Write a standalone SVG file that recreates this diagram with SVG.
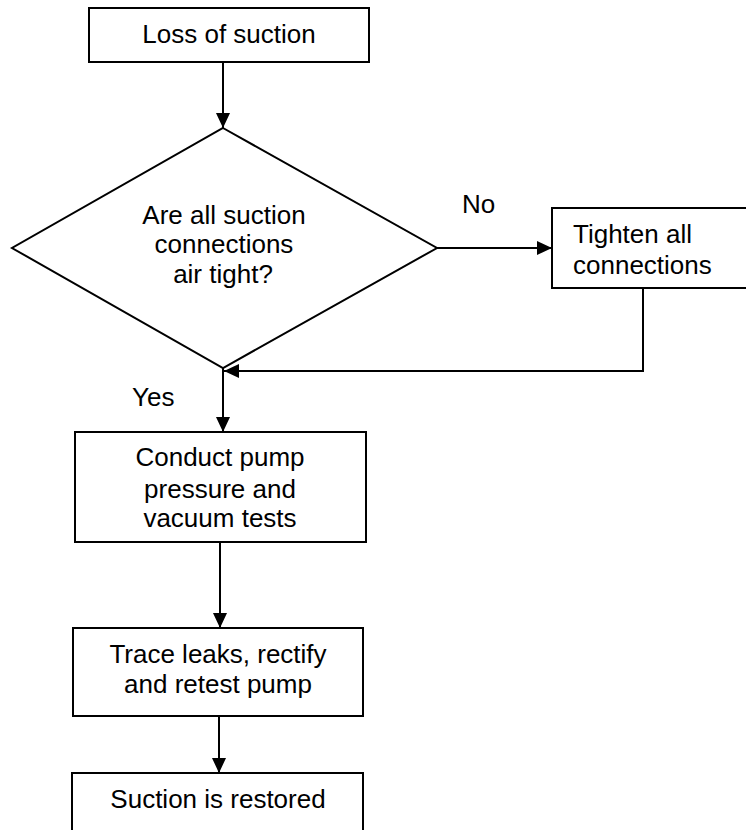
<svg xmlns="http://www.w3.org/2000/svg" width="746" height="830" viewBox="0 0 746 830">
<defs>
<style>
.shape{fill:#fff;stroke:#000;stroke-width:2}
.conn{fill:none;stroke:#000;stroke-width:2}
text{font-family:"Liberation Sans",Arial,sans-serif;font-size:26px;fill:#000}
.c{text-anchor:middle}
</style>
<marker id="arrow" markerUnits="userSpaceOnUse" markerWidth="16" markerHeight="16" viewBox="0 0 16 16" refX="15" refY="8" orient="auto">
<path d="M0,1 L15,8 L0,15 Z" fill="#000"/>
</marker>
</defs>
<rect x="0" y="0" width="746" height="830" fill="#fff"/>
<g id="connectors">
<line class="conn" x1="223" y1="62" x2="223" y2="128" marker-end="url(#arrow)"/>
<line class="conn" x1="437" y1="248" x2="552" y2="248" marker-end="url(#arrow)"/>
<polyline class="conn" points="643,288 643,371 224,371" marker-end="url(#arrow)"/>
<line class="conn" x1="223" y1="368" x2="223" y2="432" marker-end="url(#arrow)"/>
<line class="conn" x1="220" y1="542" x2="220" y2="628" marker-end="url(#arrow)"/>
<line class="conn" x1="219" y1="716" x2="219" y2="773" marker-end="url(#arrow)"/>
<text x="462" y="213">No</text>
<text x="132" y="406">Yes</text>
</g>
<g id="loss">
<rect class="shape" x="89" y="8" width="280" height="54"/>
<text class="c" x="229" y="43">Loss of suction</text>
</g>
<g id="decision">
<polygon class="shape" points="223,128 437,248 223,368 12,248"/>
<text class="c" x="224" y="224">Are all suction</text>
<text class="c" x="224" y="253">connections</text>
<text class="c" x="223" y="283">air tight?</text>
</g>
<g id="tighten">
<rect class="shape" x="552" y="208" width="210" height="80"/>
<text x="573" y="243">Tighten all</text>
<text x="573" y="274">connections</text>
</g>
<g id="conduct">
<rect class="shape" x="75" y="432" width="291" height="110"/>
<text class="c" x="220" y="466">Conduct pump</text>
<text class="c" x="220" y="498">pressure and</text>
<text class="c" x="220" y="527">vacuum tests</text>
</g>
<g id="trace">
<rect class="shape" x="73" y="628" width="290" height="88"/>
<text class="c" x="218" y="663">Trace leaks, rectify</text>
<text class="c" x="218" y="693">and retest pump</text>
</g>
<g id="restored">
<rect class="shape" x="72" y="773" width="291" height="80"/>
<text class="c" x="218" y="808">Suction is restored</text>
</g>
</svg>
